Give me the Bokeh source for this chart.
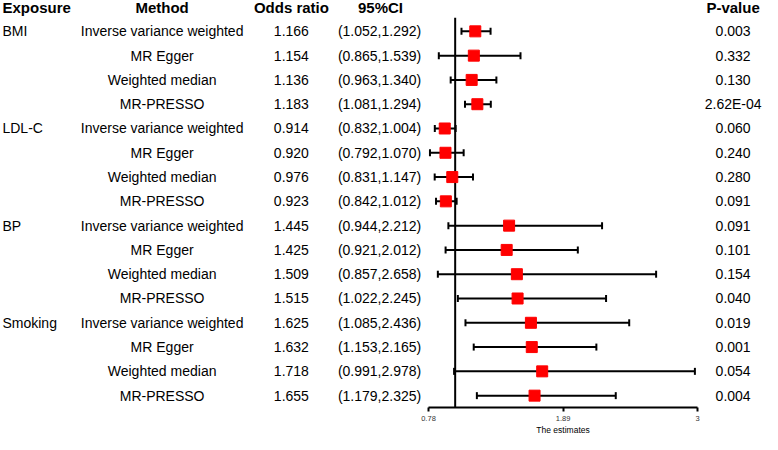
import numpy as np
from bokeh.plotting import figure
from bokeh.models import Range1d, LinearAxis, FixedTicker, ColumnDataSource
from bokeh.core.properties import value
from bokeh.embed import file_html
from bokeh.resources import INLINE

# ---- data ----
exposures = ["BMI", "LDL-C", "BP", "Smoking"]
methods = ["Inverse variance weighted", "MR Egger", "Weighted median", "MR-PRESSO"]
odds_ratio = [1.166, 1.154, 1.136, 1.183,
              0.914, 0.920, 0.976, 0.923,
              1.445, 1.425, 1.509, 1.515,
              1.625, 1.632, 1.718, 1.655]
ci_low = [1.052, 0.865, 0.963, 1.081,
          0.832, 0.792, 0.831, 0.842,
          0.944, 0.921, 0.857, 1.022,
          1.085, 1.153, 0.991, 1.179]
ci_high = [1.292, 1.539, 1.340, 1.294,
           1.004, 1.070, 1.147, 1.012,
           2.212, 2.012, 2.658, 2.245,
           2.436, 2.165, 2.978, 2.325]
p_values = ["0.003", "0.332", "0.130", "2.62E-04",
            "0.060", "0.240", "0.280", "0.091",
            "0.091", "0.101", "0.154", "0.040",
            "0.019", "0.001", "0.054", "0.004"]
headers = ["Exposure", "Method", "Odds ratio", "95%CI", "P-value"]
tick_values = [0.78, 1.89, 3]
tick_labels = ["0.78", "1.89", "3"]
null_value = 1.0
axis_title = "The estimates"

# ---- layout helpers (reference pixel space for text columns, row units vertically) ----
n = len(odds_ratio)
rows = [-i for i in range(n)]
method_col = [methods[i % 4] for i in range(n)]
exp_rows = [-4 * k for k in range(len(exposures))]
or_txt = ["%.3f" % v for v in odds_ratio]
ci_txt = ["(%.3f,%.3f)" % (a, b) for a, b in zip(ci_low, ci_high)]

FONT = value("Liberation Sans")
W, H = 762, 434
AXIS_Y = -15.5

p = figure(width=W, height=H, output_backend="svg", toolbar_location=None,
           x_range=Range1d(0, 778), y_range=Range1d(-16.6, 1.27),
           x_axis_location=None, y_axis_location=None,
           min_border=0, outline_line_color=None)
p.grid.visible = False
# estimate scale: 0.78 -> ref px 437, 3 -> ref px 711.7
px_per = (711.7 - 437.0) / (3 - 0.78)
p.extra_x_ranges = {"est": Range1d(0.78 - 437.0 / px_per, 0.78 + (778 - 437.0) / px_per)}

src = ColumnDataSource(dict(y=rows, m=method_col, o=or_txt, ci=ci_txt, pv=p_values,
                            est=odds_ratio, lo=ci_low, hi=ci_high))

# headers
hx = [2, 165, 297, 388, 748]
ha = ["left", "center", "center", "center", "center"]
for x, t, a in zip(hx, headers, ha):
    p.text(x=[x], y=[0.97], text=[t], text_align=a, text_baseline="middle",
           text_font=FONT, text_font_size="15px", text_font_style="bold", text_color="black")

# exposure labels
p.text(x=[2] * len(exposures), y=exp_rows, text=exposures, text_align="left",
       text_baseline="middle", text_font=FONT, text_font_size="14px", text_color="black")
# columns
for x, col in [(165, "m"), (297, "o"), (387, "ci"), (748, "pv")]:
    p.text(x=x, y="y", text=col, source=src, text_align="center", text_baseline="middle",
           text_font=FONT, text_font_size="14px", text_color="black")

# null line
p.segment(x0=[null_value], x1=[null_value], y0=[0.56], y1=[AXIS_Y], x_range_name="est",
          line_color="black", line_width=2)
# CI lines + caps
p.segment(x0="lo", x1="hi", y0="y", y1="y", source=src, x_range_name="est",
          line_color="black", line_width=2)
p.scatter(x="lo", y="y", source=src, x_range_name="est", marker="dash", angle=np.pi / 2,
          size=7, line_color="black", line_width=2)
p.scatter(x="hi", y="y", source=src, x_range_name="est", marker="dash", angle=np.pi / 2,
          size=7, line_color="black", line_width=2)
# points
p.scatter(x="est", y="y", source=src, x_range_name="est", marker="square", size=11,
          fill_color="#FF0000", line_color="#FF0000")

ax = LinearAxis(x_range_name="est", bounds=(tick_values[0], tick_values[-1]),
                ticker=FixedTicker(ticks=tick_values), fixed_location=AXIS_Y,
                major_label_overrides={v: l for v, l in zip(tick_values, tick_labels)})
ax.axis_line_width = 2
ax.axis_line_color = "black"
ax.major_tick_line_width = 2
ax.major_tick_line_color = "black"
ax.major_tick_in = 0
ax.major_tick_out = 4
ax.minor_tick_line_color = None
ax.major_label_text_font = "Liberation Sans"
ax.major_label_text_font_size = "7.5px"
ax.major_label_text_color = "#333333"
ax.major_label_standoff = 4
p.add_layout(ax, "below")

# axis title centred under the bounded axis
p.text(x=[(tick_values[0] + tick_values[-1]) / 2], y=[-16.4], text=[axis_title],
       x_range_name="est", text_align="center", text_baseline="middle",
       text_font=FONT, text_font_size="8.5px", text_color="black")

open("out.html", "w").write(file_html(p, INLINE))
